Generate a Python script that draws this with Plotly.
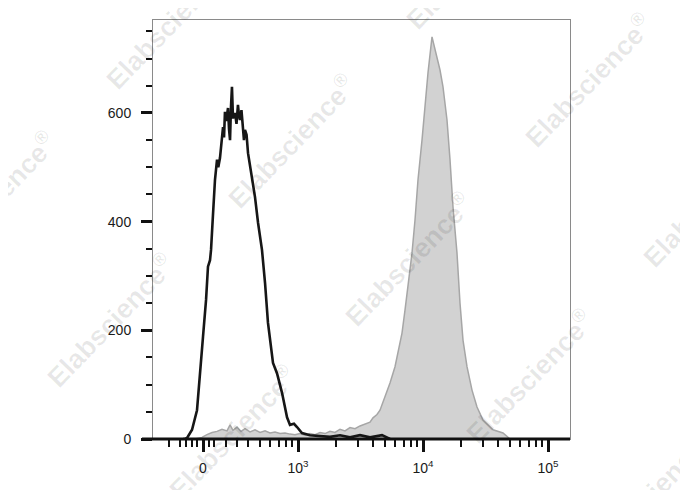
import numpy as np
import plotly.graph_objects as go

# ---------------- data (fluorescence intensity, event count) ----------------
neg_intensity = [-177, -159, -141, -97, -53, -27, 0, 27, 44, 62, 71, 88, 106, 124, 135,
                 150, 162, 177, 186, 194, 205, 221, 230, 239, 247, 256, 265, 283, 296,
                 309, 318, 327, 340, 354, 362, 371, 385, 398, 429, 453, 479,
                 515, 545, 575, 631, 679, 745, 817, 863, 929, 982, 1076, 1247, 1500,
                 1803, 2168, 2606, 3133, 3767, 4699, 5445]
neg_count = [0, 0, 2, 17, 53, 114, 188, 256, 317, 329, 348, 412, 477, 514, 500,
             517, 545, 574, 555, 602, 585, 609, 570, 550, 610, 648, 590, 600, 580,
             615, 595, 587, 605, 578, 550, 569, 560, 526, 482, 445, 398,
             348, 287, 214, 140, 121, 85, 40, 26, 28, 22, 11, 7, 6,
             4, 7, 3, 7, 3, 7, 0]

pos_intensity = [-71, -9, 35, 80, 124, 168, 212, 239, 265, 301, 336, 371, 413, 453,
                 497, 545, 597, 655, 718, 787, 863, 946, 1038, 1138, 1247, 1368, 1500,
                 1644, 1803, 1977, 2168, 2377, 2606, 2858, 3133, 3436, 3767, 3981,
                 4285, 4529, 4966, 5445, 5970, 6310, 6792, 7178, 7586, 8166, 8630,
                 9120, 9817, 10375, 10965, 11803, 12474, 12942, 13677, 14454, 15560,
                 16444, 17378, 18707, 19770, 20893, 22491, 24660, 27040, 30200,
                 36308, 43652, 49659]
pos_count = [0, 3, 8, 12, 14, 18, 15, 26, 16, 22, 14, 19, 13, 17,
             12, 15, 11, 13, 10, 11, 9, 8, 10, 7, 10, 8, 12,
             10, 14, 12, 18, 15, 21, 19, 24, 27, 31, 39,
             45, 53, 77, 103, 133, 158, 195, 237, 280, 342, 403,
             477, 550, 618, 674, 740, 716, 703, 679, 648, 587,
             514, 427, 342, 250, 182, 133, 90, 59, 35,
             17, 11, 0]

major_ticks = [0, 1e3, 1e4, 1e5]
major_labels = ["0", "10<sup>3</sup>", "10<sup>4</sup>", "10<sup>5</sup>"]
minor_ticks = ([-300, -200, -150, -100, -50, 50, 100] +
               [m * 100 for m in range(2, 10)] +
               [m * 1000 for m in range(2, 10)] +
               [m * 10000 for m in range(2, 10)])

y_major = [0, 200, 400, 600]
y_minor = [50, 100, 150, 250, 300, 350, 450, 500, 550, 650, 700, 750]

watermark_text = "Elabscience<sup>®</sup>"
# watermark centres in window pixels
watermark_px = [(169, 22), (-8, 198), (291, 141), (469, -38), (588, 80), (408, 259),
                (706, 200), (110, 320), (232, 432), (529, 376), (649, 494)]


# ---------------- biexponential-like display transform ----------------
LIN_ZERO = 2.24
def T(x):
    x = np.asarray(x, dtype=float)
    lin = LIN_ZERO + x * (np.log10(400) - LIN_ZERO) / 400.0
    lg = np.log10(np.maximum(x, 400))
    return np.where(x >= 400, lg, lin)


OFF = 8                      # page body margin of the html page
W, H = 688 - OFF, 490 - OFF
PLOT_L, PLOT_R, PLOT_T, PLOT_B = 153, 570, 20, 439   # window pixels
L, TOP = PLOT_L - OFF, PLOT_T - OFF
pw, ph = PLOT_R - PLOT_L, PLOT_B - PLOT_T
R, B = W - L - pw, H - TOP - ph

fig = go.Figure()
fig.add_trace(go.Scatter(
    x=T(pos_intensity), y=pos_count, mode="lines",
    line=dict(color="#a6a6a6", width=1.5), fill="tozeroy", fillcolor="#d2d2d2",
    hoverinfo="skip", showlegend=False))
fig.add_trace(go.Scatter(
    x=T(neg_intensity), y=neg_count, mode="lines",
    line=dict(color="#161616", width=2.6), hoverinfo="skip", showlegend=False))

tick_font = dict(family="Liberation Sans, Arial, sans-serif", size=14, color="#1a1a1a")

fig.update_xaxes(
    range=[1.84, 5.176], showgrid=False, zeroline=False,
    showline=True, linecolor="#8a8a8a", linewidth=1, mirror=True,
    tickmode="array", tickvals=T(major_ticks), ticktext=major_labels,
    ticks="outside", ticklen=12, tickwidth=3, tickcolor="#111111",
    ticklabelstandoff=4, tickfont=tick_font,
    minor=dict(tickmode="array", tickvals=T(minor_ticks), ticks="outside",
               ticklen=7, tickwidth=2, tickcolor="#111111"),
)
fig.update_yaxes(
    range=[0, 771], showgrid=False, zeroline=False,
    showline=True, linecolor="#8a8a8a", linewidth=1, mirror=True,
    tickmode="array", tickvals=y_major, ticktext=[str(v) for v in y_major],
    ticks="outside", ticklen=11, tickwidth=3, tickcolor="#111111",
    ticklabelstandoff=7, tickfont=tick_font,
    minor=dict(tickmode="array", tickvals=y_minor, ticks="outside",
               ticklen=6, tickwidth=2, tickcolor="#111111"),
)

# thick black baseline extending slightly left of the frame
fig.add_shape(type="line", xref="paper", yref="paper",
              x0=-11 / pw, x1=1, y0=0, y1=0,
              line=dict(color="#111111", width=3))

annotations = []
for (px, py) in watermark_px:
    annotations.append(dict(
        text=watermark_text, xref="paper", yref="paper",
        x=(px - PLOT_L) / pw, y=(PLOT_B - py) / ph, xanchor="center", yanchor="middle",
        showarrow=False, textangle=-46,
        font=dict(family="Liberation Sans, Arial, sans-serif", size=27,
                  color="rgba(0,0,0,0.09)", weight="bold")))

fig.update_layout(
    width=W, height=H, margin=dict(l=L, r=R, t=TOP, b=B),
    paper_bgcolor="white", plot_bgcolor="white",
    annotations=annotations, showlegend=False,
)

fig.write_html("out.html")
